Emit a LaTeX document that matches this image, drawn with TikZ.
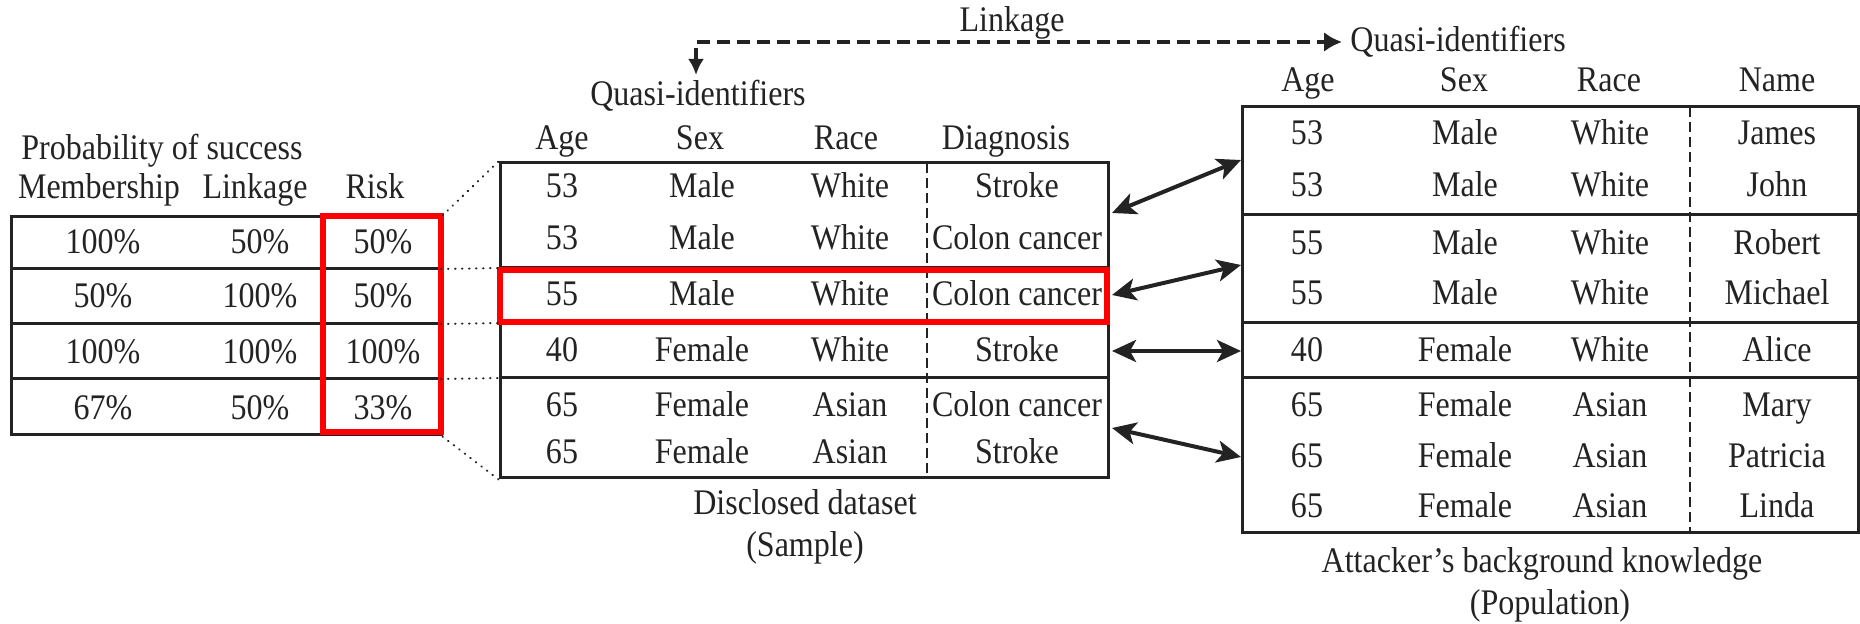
\documentclass[tikz,border=0pt]{standalone}
\usepackage{fontspec}
\setmainfont{Liberation Serif}[FakeStretch=0.89]
\usetikzlibrary{arrows.meta}
\definecolor{hilite}{RGB}{255,0,0}
\definecolor{ink}{RGB}{35,35,35}
\begin{document}
\begin{tikzpicture}[x=0.5pt,y=-0.5pt,
  every node/.style={font=\fontsize{18}{21}\selectfont, text=ink},
  txt/.style={anchor=base, inner sep=0pt},
  frame/.style={draw=ink, line width=1.5pt, inner sep=0pt},
  rule/.style={draw=ink, line width=1.5pt},
  sep/.style={draw=ink, line width=0.9pt, dash pattern=on 5pt off 2.5pt},
  redbox/.style={draw=hilite, line width=2.6pt},
  guide/.style={draw=ink, line width=1pt, dash pattern=on 0.3pt off 3.2pt, line cap=round},
  link/.style={draw=ink, line width=1.8pt, dash pattern=on 6.5pt off 3.5pt,
    {Latex[length=8pt,width=8pt]}-{Latex[length=9pt,width=10pt]}},
  match/.style={draw=ink, line width=2pt,
    {Stealth[length=12pt,width=11pt,inset=3pt]}-{Stealth[length=12pt,width=11pt,inset=3pt]}},
]
\useasboundingbox (0,0) rectangle (1860,624);

% ---------- success probabilities ----------
\node[frame, minimum width=215pt, minimum height=109pt] (lt) at (226,326) {};
\foreach \y in {269,324,379} \draw[rule] (11,\y) -- (441,\y);
\node[txt] (ptitle) at (162,160) {Probability of success};
\node[txt] (hmem) at (99,199) {Membership};
\node[txt] (hlink) at (255,199) {Linkage};
\node[txt] (hrisk) at (375,199) {Risk};
\foreach \m/\l/\r/\y [count=\i] in {100\%/50\%/50\%/254, 50\%/100\%/50\%/308,
    100\%/100\%/100\%/364, 67\%/50\%/33\%/420} {
  \node[txt] (lm\i) at (103,\y) {\m};
  \node[txt] (ll\i) at (260,\y) {\l};
  \node[txt] (lr\i) at (383,\y) {\r};
}
\draw[redbox] (323,216) rectangle (441,432);

% ---------- disclosed dataset ----------
\node[frame, minimum width=304pt, minimum height=157.5pt] (mt) at (804,320.5) {};
\foreach \y in {268,323,378} \draw[rule] (500,\y) -- (1108,\y);
\draw[sep] (927,163) -- (927,478);
\node[txt] (mqi) at (698,106) {Quasi-identifiers};
\node[txt] (mage) at (562,150) {Age};
\node[txt] (msex) at (700,150) {Sex};
\node[txt] (mrace) at (846,150) {Race};
\node[txt] (mdiag) at (1006,150) {Diagnosis};
\foreach \a/\s/\r/\d/\y [count=\i] in {53/Male/White/Stroke/198, 53/Male/White/Colon cancer/250,
    55/Male/White/Colon cancer/306, 40/Female/White/Stroke/362,
    65/Female/Asian/Colon cancer/417, 65/Female/Asian/Stroke/464} {
  \node[txt] (ma\i) at (562,\y) {\a};
  \node[txt] (ms\i) at (702,\y) {\s};
  \node[txt] (mr\i) at (850,\y) {\r};
  \node[txt] (md\i) at (1017,\y) {\d};
}
\draw[redbox] (500,270) rectangle (1107,322);
\node[txt] (mcap1) at (805,515) {Disclosed dataset};
\node[txt] (mcap2) at (805,557) {(Sample)};

% dotted guides from the risk rows to the matching groups
\draw[guide] (lt.north east) -- (mt.north west);
\draw[guide] (441,269) -- (500,268);
\draw[guide] (441,324) -- (500,323);
\draw[guide] (441,379) -- (500,378);
\draw[guide] (lt.south east) -- (mt.south west);

% ---------- attacker's knowledge ----------
\node[frame, minimum width=308pt, minimum height=213pt] (rt) at (1550,320) {};
\foreach \y in {215,323,378} \draw[rule] (1242,\y) -- (1858,\y);
\draw[sep] (1690,107) -- (1690,533);
\node[txt, anchor=base west] (rqi) at (1350,52) {Quasi-identifiers};
\node[txt] (rage) at (1308,92) {Age};
\node[txt] (rsex) at (1464,92) {Sex};
\node[txt] (rrace) at (1609,92) {Race};
\node[txt] (rname) at (1777,92) {Name};
\foreach \a/\s/\r/\n/\y [count=\i] in {53/Male/White/James/145, 53/Male/White/John/197,
    55/Male/White/Robert/255, 55/Male/White/Michael/305, 40/Female/White/Alice/362,
    65/Female/Asian/Mary/417, 65/Female/Asian/Patricia/468, 65/Female/Asian/Linda/518} {
  \node[txt] (ra\i) at (1307,\y) {\a};
  \node[txt] (rs\i) at (1465,\y) {\s};
  \node[txt] (rr\i) at (1610,\y) {\r};
  \node[txt] (rn\i) at (1777,\y) {\n};
}
\node[txt] (rcap1) at (1542,573) {Attacker’s background knowledge};
\node[txt] (rcap2) at (1550,615) {(Population)};

% ---------- linkage ----------
\node[txt] (linklbl) at (1012,32) {Linkage};
\coordinate (qdown) at (696,75);
\coordinate (qright) at (1342,42);
\draw[link] (qdown) |- (qright);

\coordinate (m1) at (1112,213); \coordinate (p1) at (1241,160);
\coordinate (m2) at (1112,295); \coordinate (p2) at (1241,265);
\coordinate (m3) at (1112,351); \coordinate (p3) at (1241,351);
\coordinate (m4) at (1112,428); \coordinate (p4) at (1241,457);
\foreach \i in {1,...,4} \draw[match] (m\i) -- (p\i);
\end{tikzpicture}
\end{document}
